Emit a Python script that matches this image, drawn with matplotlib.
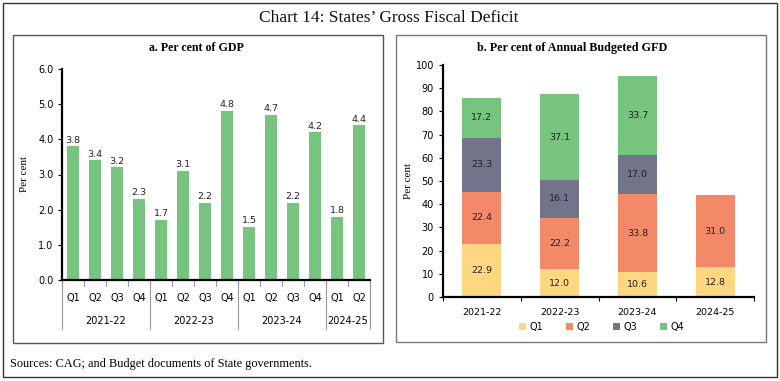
import matplotlib.pyplot as plt
import matplotlib.patches as mpatches
from matplotlib.lines import Line2D
import numpy as np

# ---------------------------------------------------------------------------
# Data
# ---------------------------------------------------------------------------
years = ["2021-22", "2022-23", "2023-24", "2024-25"]
quarters_per_year = [4, 4, 4, 2]
quarter_labels = ["Q1", "Q2", "Q3", "Q4"]

gdp_share = [3.8, 3.4, 3.2, 2.3, 1.7, 3.1, 2.2, 4.8, 1.5, 4.7, 2.2, 4.2, 1.8, 4.4]

budget_q1 = [22.9, 12.0, 10.6, 12.8]
budget_q2 = [22.4, 22.2, 33.8, 31.0]
budget_q3 = [23.3, 16.1, 17.0, 0.0]
budget_q4 = [17.2, 37.1, 33.7, 0.0]

GREEN = "#76C47E"
COLORS = ["#FFD782", "#F4896A", "#72748A", "#76C47E"]
SANS = "DejaVu Sans"
SERIF = "Liberation Serif"

W, H = 780, 381
fig = plt.figure(figsize=(W / 100, H / 100), dpi=100)


def px_axes(left, top, right, bottom):
    return fig.add_axes([left / W, 1 - bottom / H, (right - left) / W, (bottom - top) / H])


def px_rect(left, top, right, bottom, lw=1.0, color="black"):
    r = mpatches.Rectangle((left / W, 1 - bottom / H), (right - left) / W, (bottom - top) / H,
                           transform=fig.transFigure, fill=False, lw=lw, edgecolor=color)
    fig.patches.append(r)


# frames
px_rect(3, 3, 777, 377, lw=1.0, color="#333333")
px_rect(13, 35, 383, 343, lw=1.0, color="#555555")
px_rect(396, 35, 766, 342, lw=1.0, color="#777777")

fig.text(389 / W, 1 - 18 / H, "Chart 14: States\u2019 Gross Fiscal Deficit", ha="center", va="center",
         family=SERIF, fontsize=12.5, color="#111111")
fig.text(196 / W, 1 - 48 / H, "a. Per cent of GDP", ha="center", va="center",
         family=SERIF, fontsize=8.6, fontweight="bold")
fig.text(572 / W, 1 - 48 / H, "b. Per cent of Annual Budgeted GFD", ha="center", va="center",
         family=SERIF, fontsize=8.7, fontweight="bold")
fig.text(10 / W, 1 - 364 / H, "Sources: CAG; and Budget documents of State governments.",
         ha="left", va="center", family=SERIF, fontsize=8.8)

# ---------------------------------------------------------------------------
# Panel a
# ---------------------------------------------------------------------------
ax1 = px_axes(62, 69, 370, 280)
x1 = np.arange(len(gdp_share))
ax1.bar(x1, gdp_share, width=0.52, color=GREEN)
for xi, v in zip(x1, gdp_share):
    ax1.text(xi, v + 0.05, f"{v:.1f}", ha="center", va="bottom", fontsize=6.8, family=SANS, color="#222222")
ax1.set_xlim(-0.5, len(gdp_share) - 0.5)
ax1.set_ylim(0, 6)
ax1.set_yticks(np.arange(0, 6.1, 1.0))
ax1.set_yticklabels([f"{t:.1f}" for t in np.arange(0, 6.1, 1.0)], family=SANS, fontsize=7)
ax1.set_xticks([])
for s in ["top", "right"]:
    ax1.spines[s].set_visible(False)
ax1.spines["left"].set_linewidth(1.6)
ax1.spines["bottom"].set_linewidth(1.6)
ax1.tick_params(axis="y", length=3, width=0.8, pad=3)
ax1.set_ylabel("Per cent", family=SERIF, fontsize=8, labelpad=7)

# category labels under the axis
trans = ax1.get_xaxis_transform()
q_names = [quarter_labels[i] for n in quarters_per_year for i in range(n)]
for xi, q in zip(x1, q_names):
    ax1.text(xi, -0.085, q, transform=trans, ha="center", va="center", family=SANS, fontsize=7)
for b in range(len(gdp_share) + 1):
    ax1.add_line(Line2D([b - 0.5, b - 0.5], [0, -0.03], transform=trans, clip_on=False,
                        color="#999999", lw=0.8))
start = 0
bounds = [-0.5]
for y, n in zip(years, quarters_per_year):
    mid = start + (n - 1) / 2
    ax1.text(mid, -0.195, y, transform=trans, ha="center", va="center", family=SANS, fontsize=7)
    start += n
    bounds.append(start - 0.5)
for b in bounds:
    ax1.add_line(Line2D([b, b], [0, -0.232], transform=trans, clip_on=False, color="#999999", lw=0.8))

# ---------------------------------------------------------------------------
# Panel b
# ---------------------------------------------------------------------------
ax2 = px_axes(443, 65, 754, 297)
x2 = np.arange(len(years))
bottom = np.zeros(len(years))
series = [budget_q1, budget_q2, budget_q3, budget_q4]
for name, vals, col in zip(quarter_labels, series, COLORS):
    vals = np.array(vals)
    ax2.bar(x2, vals, width=0.5, bottom=bottom, color=col, label=name)
    for xi, b, v in zip(x2, bottom, vals):
        if v > 0:
            ax2.text(xi, b + v / 2, f"{v:.1f}", ha="center", va="center", fontsize=6.8,
                     family=SANS, color="#222222")
    bottom += vals
ax2.set_xlim(-0.5, len(years) - 0.5)
ax2.set_ylim(0, 100)
ax2.set_yticks(np.arange(0, 101, 10))
ax2.set_xticks(x2)
ax2.set_xticklabels(years, family=SANS, fontsize=6.8)
ax2.set_xticks(np.arange(-0.5, len(years), 1.0), minor=True)
ax2.tick_params(axis="x", which="major", length=0, pad=8)
ax2.tick_params(axis="x", which="minor", length=3, width=0.8, direction="out")
ax2.tick_params(axis="y", length=3, width=0.8, labelsize=7)
for lab in ax2.get_yticklabels():
    lab.set_family(SANS)
for s in ["top", "right"]:
    ax2.spines[s].set_visible(False)
ax2.spines["left"].set_linewidth(1.6)
ax2.spines["bottom"].set_linewidth(1.6)
ax2.set_ylabel("Per cent", family=SERIF, fontsize=8, labelpad=2)
ax2.legend(loc="center", bbox_to_anchor=(0.51, -0.13), ncol=4, frameon=False,
           prop={"family": SANS, "size": 7}, handlelength=0.75, handleheight=0.75,
           columnspacing=2.3, handletextpad=0.35)

fig.savefig("out.png", dpi=100)
